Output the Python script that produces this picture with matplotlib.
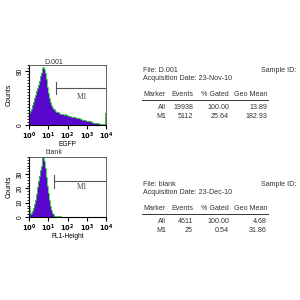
import numpy as np
import matplotlib
matplotlib.use("Agg")
import matplotlib.pyplot as plt

plt.rcParams['font.family'] = ['Liberation Sans', 'DejaVu Sans']

# histogram counts, 80 log-spaced bins from 10^0 to 10^4
d001_counts = [20, 24, 27, 33, 38, 45, 50, 56, 61, 67, 74, 81, 86, 92, 95, 97,
               94, 86, 76, 64, 54, 45, 38, 33, 30, 27, 26, 24, 22, 21, 21, 20,
               19, 19, 18, 18, 17, 18, 17, 16, 16, 15, 15, 15, 14, 14, 13, 13,
               13, 12, 12, 11, 11, 10, 10, 9, 9, 8, 8, 7, 7, 7, 6, 6,
               5, 5, 5, 4, 4, 4, 3, 3, 3, 2, 2, 2, 2, 1, 2, 20]
blank_counts = [8, 2, 3, 4, 6, 9, 12, 16, 21, 25, 29, 33, 36, 39, 41, 42,
                39, 34, 28, 22, 17, 12, 8, 5, 3, 2, 1, 1, 1, 0, 1, 0,
                1, 0, 0, 0, 0, 0, 0, 0, 0, 0, 0, 0, 0, 0, 0, 0,
                0, 0, 0, 0, 0, 0, 0, 0, 0, 0, 0, 0, 0, 0, 0, 0,
                0, 0, 0, 0, 0, 0, 0, 0, 0, 0, 0, 0, 0, 0, 0, 0]

# M1 gate (start, end, level) and stats tables
d001_gate = (25, 10000, 62)
blank_gate = (21, 10000, 25)
stat_cols = ["Marker", "Events", "% Gated", "Geo Mean"]
d001_rows = [["All", "19938", "100.00", "13.89"],
             ["M1", "5112", "25.64", "182.93"]]
blank_rows = [["All", "4611", "100.00", "4.68"],
              ["M1", "25", "0.54", "31.86"]]

purple = '#5808cc'
green = '#33dd33'
txt = '#333333'

fig = plt.figure(figsize=(3, 3), dpi=100)


def hist_panel(rect, counts, ymax, yticks, yminor, gate, gate_h, label_y, title, title_y, xlabel):
    ax = fig.add_axes(rect)
    edges = np.logspace(0, 4, len(counts) + 1)
    ax.stairs(counts, edges, fill=True, color=purple, lw=0)
    ax.stairs(counts, edges, color=green, lw=0.6)
    ax.set_xscale('log')
    ax.set_xlim(1, 10000)
    ax.set_ylim(0, ymax)
    ax.set_xticks([1, 10, 100, 1000, 10000])
    ax.set_xticklabels([r'$\mathbf{10^{%d}}$' % i for i in range(5)], fontsize=4.8)
    ax.set_yticks(yticks)
    ax.set_yticks(yminor, minor=True)
    ax.set_yticklabels([str(t) for t in yticks], fontsize=4.8, rotation=90, va='center')
    ax.tick_params(axis='both', which='major', length=3, width=0.8, pad=1, colors='black')
    ax.tick_params(axis='both', which='minor', length=1.5, width=0.6)
    for s in ax.spines.values():
        s.set_linewidth(0.8)
    for s in ['top', 'right']:
        ax.spines[s].set_linewidth(0.6)
        ax.spines[s].set_color('#444444')
    ax.set_xlabel(xlabel, fontsize=4.8, labelpad=-0.5)
    ax.set_ylabel("Counts", fontsize=5, labelpad=3)
    x0, x1, lev = gate
    ax.plot([x0, x1], [lev, lev], color='#555555', lw=0.8)
    ax.plot([x0, x0], [lev - gate_h, lev + gate_h], color='#555555', lw=0.8)
    ax.text(550, label_y, "M1", fontsize=5.5, family='Liberation Serif', color='#444444',
            ha='center', va='center')
    fig.text(54 / 300, title_y, title, fontsize=5, ha='center', va='center', color=txt)
    return ax


hist_panel([29 / 300, 1 - 125 / 300, 77 / 300, 60 / 300], d001_counts, 100,
           [0, 90], np.arange(0, 101, 5), d001_gate, 10, 47, "D.001", 1 - 62 / 300, "EGFP")
hist_panel([29 / 300, 1 - 217 / 300, 77 / 300, 60 / 300], blank_counts, 42,
           [0, 10, 20, 30], np.arange(0, 43, 2), blank_gate, 4.5, 21, "blank", 1 - 152 / 300,
           "FL1-Height")


def stats_panel(file_y, fname, date, rows):
    fs = 5.1
    fig.text(143 / 300, 1 - file_y / 300, "File: " + fname, fontsize=fs, color=txt, va='center')
    fig.text(296 / 300, 1 - file_y / 300, "Sample ID:", fontsize=fs, color=txt, va='center', ha='right')
    fig.text(143 / 300, 1 - (file_y + 9) / 300, "Acquisition Date: " + date, fontsize=fs,
             color=txt, va='center')
    hy = file_y + 25
    col_right = [166, 193, 229, 267]
    fig.text(143 / 300, 1 - hy / 300, stat_cols[0], fontsize=fs, color=txt, va='center')
    for c, xr in zip(stat_cols[1:], col_right[1:]):
        fig.text(xr / 300, 1 - hy / 300, c, fontsize=fs, color=txt, va='center', ha='right')
    fig.add_artist(plt.Line2D([142 / 300, 268 / 300], [1 - (hy + 4.5) / 300] * 2,
                              color=txt, lw=0.7))
    for k, row in enumerate(rows):
        ry = hy + 12.5 + 9 * k
        for v, xr in zip(row, col_right):
            fig.text(xr / 300, 1 - ry / 300, v, fontsize=fs, color=txt, va='center', ha='right')


stats_panel(70, "D.001", "23-Nov-10", d001_rows)
stats_panel(184, "blank", "23-Dec-10", blank_rows)

fig.savefig("out.png", dpi=100)
